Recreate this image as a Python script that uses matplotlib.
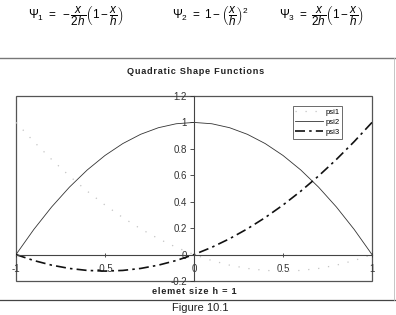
import matplotlib
matplotlib.use("Agg")
import matplotlib.pyplot as plt
from matplotlib.lines import Line2D
from matplotlib.patches import Rectangle

plt.rcParams['font.family'] = ['Liberation Sans', 'DejaVu Sans']
plt.rcParams['mathtext.fontset'] = 'custom'
plt.rcParams['mathtext.rm'] = 'Liberation Sans'
plt.rcParams['mathtext.it'] = 'Liberation Sans:italic'
plt.rcParams['mathtext.bf'] = 'Liberation Sans:bold'

# Data
x_vals = [-1.0, -0.9, -0.8, -0.7, -0.6, -0.5, -0.4, -0.3, -0.2, -0.1, 0.0,
          0.1, 0.2, 0.3, 0.4, 0.5, 0.6, 0.7, 0.8, 0.9, 1.0]
psi1 = [1.0, 0.855, 0.72, 0.595, 0.48, 0.375, 0.28, 0.195, 0.12, 0.055, 0.0,
        -0.045, -0.08, -0.105, -0.12, -0.125, -0.12, -0.105, -0.08, -0.045, 0.0]
psi2 = [0.0, 0.19, 0.36, 0.51, 0.64, 0.75, 0.84, 0.91, 0.96, 0.99, 1.0,
        0.99, 0.96, 0.91, 0.84, 0.75, 0.64, 0.51, 0.36, 0.19, 0.0]
psi3 = [0.0, -0.045, -0.08, -0.105, -0.12, -0.125, -0.12, -0.105, -0.08, -0.045, 0.0,
        0.055, 0.12, 0.195, 0.28, 0.375, 0.48, 0.595, 0.72, 0.855, 1.0]
y_ticks = [-0.2, 0, 0.2, 0.4, 0.6, 0.8, 1, 1.2]
y_ticklabels = ['-0.2', '0', '0.2', '0.4', '0.6', '0.8', '1', '1.2']
x_ticks = [-1, -0.5, 0, 0.5, 1]
x_ticklabels = ['-1', '-0.5', '0', '0.5', '1']

W, H = 396, 315
fig = plt.figure(figsize=(W / 100, H / 100), dpi=100)
fig.patch.set_facecolor('white')

ax = fig.add_axes([16 / W, 1 - 281 / H, (372 - 16) / W, (281 - 96) / H])
ax.set_xlim(-1, 1)
ax.set_ylim(-0.2, 1.2)

ax.plot(x_vals, psi1, color='#c4c4c4', lw=0.9, linestyle=(0, (1, 7)), label='psi1')
ax.plot(x_vals, psi2, color='#333333', lw=0.6, linestyle='-', label='psi2')
ax.plot(x_vals, psi3, color='#111111', lw=1.2, linestyle=(0, (6, 2.5, 1.5, 2.5)), label='psi3')

for s in ['top', 'right']:
    ax.spines[s].set_visible(False)
ax.spines['left'].set_position(('data', 0))
ax.spines['bottom'].set_position(('data', 0))
ax.spines['left'].set_color('#444444')
ax.spines['bottom'].set_color('#444444')
ax.spines['left'].set_linewidth(0.8)
ax.spines['bottom'].set_linewidth(0.8)
ax.add_patch(Rectangle((0, 0), 1, 1, transform=ax.transAxes, fill=False,
                       edgecolor='#555555', lw=0.9, clip_on=False))

ax.set_yticks(y_ticks)
ax.set_yticklabels(y_ticklabels)
ax.set_xticks(x_ticks)
ax.set_xticklabels(x_ticklabels)
ax.tick_params(axis='y', direction='out', length=3, width=0.6, labelsize=7, pad=2, colors='#333333')
ax.tick_params(axis='x', direction='inout', length=3, width=0.6, labelsize=7, pad=5, colors='#333333')

leg = ax.legend(loc='upper right', bbox_to_anchor=(342 / W, 1 - 106 / H),
                bbox_transform=fig.transFigure, fontsize=5.5, frameon=True,
                fancybox=False, handlelength=3.6, handletextpad=0.3,
                borderpad=0.35, labelspacing=0.35, borderaxespad=0)
leg.get_frame().set_edgecolor('#444444')
leg.get_frame().set_linewidth(0.7)

# Title and axis label
hs = '\u200a'
title = 'Quadratic Shape Functions'
fig.text(196 / W, 1 - 71 / H, hs.join(title), ha='center', va='center',
         fontsize=6.6, fontweight='bold', color='#222222')
xl = 'elemet size h = 1'
fig.text(194 / W, 1 - 291 / H, hs.join(xl), ha='center', va='center',
         fontsize=6.6, fontweight='bold', color='#222222')

# Formulas
fs = 8.5
fig.text(76 / W, 1 - 16 / H, r'$\Psi_1\ =\ -\dfrac{x}{2h}\left(1-\dfrac{x}{h}\right)$',
         ha='center', va='center', fontsize=fs)
fig.text(210 / W, 1 - 16 / H, r'$\Psi_2\ =\ 1-\left(\dfrac{x}{h}\right)^2$',
         ha='center', va='center', fontsize=fs)
fig.text(321 / W, 1 - 16 / H, r'$\Psi_3\ =\ \dfrac{x}{2h}\left(1-\dfrac{x}{h}\right)$',
         ha='center', va='center', fontsize=fs)

# Outer chart box lines
fig.add_artist(Line2D([0, 395 / W], [1 - 58 / H, 1 - 58 / H], transform=fig.transFigure,
                      color='#777777', lw=1.0))
fig.add_artist(Line2D([0, 395 / W], [1 - 300 / H, 1 - 300 / H], transform=fig.transFigure,
                      color='#444444', lw=0.9))
fig.add_artist(Line2D([394 / W, 394 / W], [1 - 58 / H, 1 - 300 / H], transform=fig.transFigure,
                      color='#bbbbbb', lw=0.6))

fig.text(200 / W, 1 - 308 / H, 'Figure 10.1', ha='center', va='center',
         fontsize=8, color='#222222')

fig.savefig('out.png', dpi=100)
